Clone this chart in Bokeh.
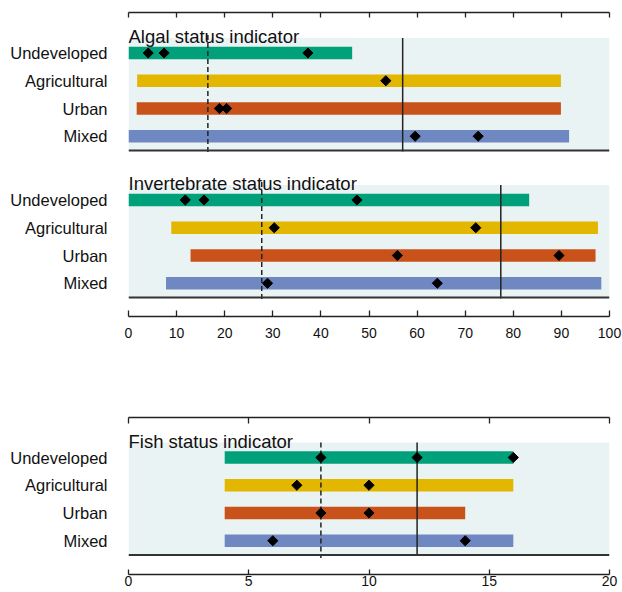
import math
from bokeh.plotting import figure
from bokeh.layouts import column
from bokeh.models import Range1d, LinearAxis, FixedTicker, CustomJSTickFormatter
from bokeh.core.properties import value
from bokeh.embed import file_html
from bokeh.resources import INLINE

# ---------------- data ----------------
categories = ["Undeveloped", "Agricultural", "Urban", "Mixed"]
colors = ["#00A07B", "#E3B600", "#C9521A", "#7088C2"]

algal_title = "Algal status indicator"
algal_start = [0.0, 1.8, 1.7, 0.0]
algal_end = [46.5, 89.9, 89.9, 91.6]
algal_points = [[4.1, 7.4, 37.3], [53.5], [18.9, 20.4], [59.6, 72.7]]
algal_dashed = 16.5
algal_solid = 57.0

invert_title = "Invertebrate status indicator"
invert_start = [0.0, 8.9, 12.9, 7.8]
invert_end = [83.3, 97.6, 97.1, 98.3]
invert_points = [[11.8, 15.7, 47.5], [30.3, 72.2], [55.9, 89.5], [28.9, 64.2]]
invert_dashed = 27.7
invert_solid = 77.4

fish_title = "Fish status indicator"
fish_start = [4.0, 4.0, 4.0, 4.0]
fish_end = [16.0, 16.0, 14.0, 16.0]
fish_points = [[8, 12, 16], [7, 10], [8, 10], [6, 14]]
fish_dashed = 8
fish_solid = 12

pct_ticks = [0, 10, 20, 30, 40, 50, 60, 70, 80, 90, 100]
fish_ticks = [0, 5, 10, 15, 20]

# ---------------- style ----------------
FONT = "Liberation Sans"
BG = "#EAF3F3"
DARK = "#222222"
ROW = 27.75
BAR_H = 12.5


def base_fig(height, xmax, frame_h, left, right, top, bottom):
    p = figure(width=622, height=height, x_range=Range1d(0, xmax),
               y_range=Range1d(frame_h, 0),
               output_backend="svg", toolbar_location=None,
               x_axis_location=None, y_axis_location=None,
               min_border_left=left, min_border_right=right,
               min_border_top=top, min_border_bottom=bottom)
    p.outline_line_color = None
    p.background_fill_color = "white"
    p.border_fill_color = "white"
    p.grid.visible = False
    return p


def add_top_axis(p, ticks, tick_len):
    # ticks only (drawn as minor ticks so no labels are produced)
    ax = LinearAxis(ticker=FixedTicker(ticks=[], minor_ticks=ticks))
    ax.axis_line_color = DARK
    ax.axis_line_width = 1.3
    ax.major_tick_line_color = None
    ax.minor_tick_line_color = DARK
    ax.minor_tick_line_width = 1.3
    ax.minor_tick_in = tick_len
    ax.minor_tick_out = 0
    ax.major_tick_in = 0
    ax.major_tick_out = 0
    ax.major_label_standoff = 0
    p.add_layout(ax, "above")


def add_bottom_axis(p, ticks, standoff, tick_len):
    ax = LinearAxis(ticker=FixedTicker(ticks=ticks, minor_ticks=[]))
    ax.axis_line_color = DARK
    ax.axis_line_width = 1.3
    ax.major_tick_line_color = DARK
    ax.major_tick_line_width = 1.3
    ax.major_tick_in = tick_len
    ax.major_tick_out = 0
    ax.minor_tick_line_color = None
    ax.major_label_text_font = FONT
    ax.major_label_text_font_size = "14px"
    ax.major_label_text_color = "#111111"
    ax.major_label_standoff = standoff
    p.add_layout(ax, "below")


def add_panel(p, bg_top, xmax, title, starts, ends, points, dashed, solid,
              dash_top_extra=3):
    centers = [bg_top + 15 + ROW * i for i in range(len(categories))]
    bg_bottom = centers[-1] + 14.25
    p.quad(left=[0], right=[xmax], top=[bg_top], bottom=[bg_bottom],
           fill_color=BG, line_color=None)
    p.hbar(y=centers, left=starts, right=ends, height=BAR_H,
           fill_color=colors, line_color=None)
    p.segment(x0=[solid], x1=[solid], y0=[bg_top], y1=[bg_bottom + 1],
              line_color=DARK, line_width=1.5)
    p.segment(x0=[dashed], x1=[dashed], y0=[bg_top - dash_top_extra],
              y1=[bg_bottom + 3], line_color=DARK, line_width=1.5,
              line_dash="5 3")
    p.segment(x0=[0], x1=[xmax], y0=[bg_bottom], y1=[bg_bottom],
              line_color="#333333", line_width=2)
    px, py = [], []
    for c, pts in zip(centers, points):
        for v in pts:
            px.append(v)
            py.append(c)
    p.scatter(px, py, marker="square", angle=math.pi / 4, size=7.2,
              fill_color="black", line_color="black")
    p.text(x=[0], y=[bg_top - 1.5], text=[title],
           text_font=value(FONT), text_font_size=value("18.5px"),
           text_align="left", text_baseline="alphabetic", text_color="#111111")
    return centers


def add_cat_axis(p, centers, names):
    ax = LinearAxis(ticker=FixedTicker(ticks=centers, minor_ticks=[]))
    ax.axis_line_color = None
    ax.major_tick_line_color = None
    ax.minor_tick_line_color = None
    ax.major_tick_in = 0
    ax.major_tick_out = 0
    ax.major_label_standoff = 21
    ax.major_label_text_font = FONT
    ax.major_label_text_font_size = "16.5px"
    ax.major_label_text_color = "#111111"
    ax.formatter = CustomJSTickFormatter(args=dict(names=names),
                                         code="return names[index];")
    p.add_layout(ax, "left")


# ---------------- figure A: algal + invertebrate ----------------
FA_H = 304
pA = base_fig(height=12 + FA_H + 30, xmax=100, frame_h=FA_H,
              left=128, right=13, top=12, bottom=30)
c1 = add_panel(pA, 25.5, 100, algal_title, algal_start, algal_end,
               algal_points, algal_dashed, algal_solid)
c2 = add_panel(pA, 172.5, 100, invert_title, invert_start, invert_end,
               invert_points, invert_dashed, invert_solid)
add_cat_axis(pA, c1 + c2, categories + categories)
add_top_axis(pA, pct_ticks, 5)
add_bottom_axis(pA, pct_ticks, standoff=11, tick_len=6)

# ---------------- figure B: fish ----------------
FB_H = 157
pB = base_fig(height=71 + FB_H + 18, xmax=20, frame_h=FB_H,
              left=126, right=12, top=71, bottom=18)
c3 = add_panel(pB, 25, 20, fish_title, fish_start, fish_end,
               fish_points, fish_dashed, fish_solid, dash_top_extra=0)
add_cat_axis(pB, c3, categories)
add_top_axis(pB, fish_ticks, 6)
add_bottom_axis(pB, fish_ticks, standoff=1, tick_len=5)

layout = column(pA, pB, spacing=0)
open("out.html", "w").write(file_html(layout, INLINE))
